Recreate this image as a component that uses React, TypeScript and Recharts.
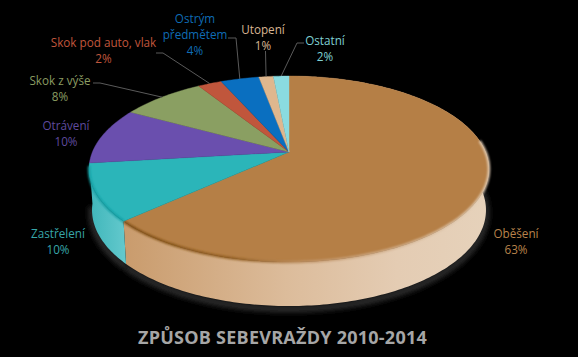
import { Pie, PieChart } from "recharts";

const categories = ["Oběšení", "Zastřelení", "Otrávení", "Skok z výše", "Skok pod auto, vlak", "Ostrým předmětem", "Utopení", "Ostatní"];
const shares = [63.2, 9.9, 9.9, 8.1, 2.3, 3.7, 1.4, 1.5];
const percentLabels = ["63%", "10%", "10%", "8%", "2%", "4%", "1%", "2%"];
const topColors = ["#b57f46", "#2bb5b9", "#6a4fae", "#8a9f62", "#c0563c", "#0a6fc0", "#dfb78e", "#8adbe0"];
const textColors = ["#b8834b", "#37a6a9", "#5f4a9d", "#8a9c62", "#c0563c", "#0f6cb5", "#d8b592", "#7fd0d3"];

const chartData = categories.map((name, i) => ({ name, value: shares[i], fill: topColors[i], index: i }));

const FONT = "'Open Sans', sans-serif";
const CX = 289;
const CY = 152;
const RADIUS = 196.6;
const SQUASH = 0.4573;
const PERSPECTIVE = 0.183;

// text layout per slice: centre x, first line y, lines, and the leader elbow
const labelLayout: Record<string, { x: number; y: number; lines: string[]; leader?: [number, number][] }> = {
  "Oběšení": { x: 516, y: 233, lines: ["Oběšení"] },
  "Zastřelení": { x: 58, y: 233, lines: ["Zastřelení"] },
  "Otrávení": { x: 66, y: 125, lines: ["Otrávení"] },
  "Skok z výše": { x: 60, y: 80, lines: ["Skok z výše"], leader: [[93, 83], [100, 83]] },
  "Skok pod auto, vlak": { x: 103.5, y: 42, lines: ["Skok pod auto, vlak"], leader: [[156, 53], [163, 53]] },
  "Ostrým předmětem": { x: 195, y: 18, lines: ["Ostrým", "předmětem"], leader: [[228, 38], [236, 38]] },
  "Utopení": { x: 263, y: 29, lines: ["Utopení"], leader: [[265.5, 51]] },
  "Ostatní": { x: 325, y: 40, lines: ["Ostatní"], leader: [[304, 43], [297, 43]] },
};

// pie plane seen in perspective: the centre sits above the middle of the ellipse
function project(cx: number, cy: number, r: number, deg: number): [number, number] {
  const a = (deg * Math.PI) / 180;
  const u = Math.cos(a);
  const v = -Math.sin(a);
  const w = 1 / (1 - PERSPECTIVE * v);
  return [cx + r * u * w, cy + r * SQUASH * v * w];
}

function lowerRim(cx: number, cy: number, p: [number, number]): [number, number] {
  return [cx + (p[0] - cx) * 0.985, cy + 58 + (p[1] - cy - 17) * 1.032];
}

function arcPoints(props: any) {
  const { cx, cy, outerRadius, startAngle, endAngle } = props;
  const steps = Math.max(2, Math.ceil(Math.abs(endAngle - startAngle)));
  const pts: [number, number][] = [];
  for (let i = 0; i <= steps; i++) {
    pts.push(project(cx, cy, outerRadius, startAngle + ((endAngle - startAngle) * i) / steps));
  }
  return pts;
}

const toPath = (pts: [number, number][]) => pts.map((p, i) => `${i ? "L" : "M"}${p[0].toFixed(2)} ${p[1].toFixed(2)}`).join(" ");

function TopSlice(props: any) {
  const pts = arcPoints(props);
  const rim = props.index === 0 ? "url(#rimBrown)" : props.index === 1 ? "#149ca1" : null;
  // the bevel runs along the near edge and a little way up the right side
  const rimPts = pts.filter((p) => p[1] > props.cy + 14 || (p[0] > props.cx && p[1] > props.cy - 12));
  return (
    <g>
      <path d={`M${props.cx} ${props.cy} ${toPath(pts).replace("M", "L")} Z`} fill={props.fill} stroke={props.fill} strokeWidth={0.4} />
      {rim && <path d={toPath(rimPts)} fill="none" stroke={rim} strokeWidth={2.4} filter="url(#soft)" />}
    </g>
  );
}

function WallSlice(props: any) {
  if (props.index > 1) return <g />;
  const pts = arcPoints(props);
  const low = pts.map((p) => lowerRim(props.cx, props.cy, p)).reverse();
  return <path d={`${toPath(pts)} ${toPath(low).replace("M", "L")} Z`} fill={props.index === 0 ? "url(#wallBrown)" : "url(#wallTeal)"} />;
}

function GlowSlice(props: any) {
  if (props.index > 1) return <g />;
  const low = arcPoints(props)
    .map((p) => lowerRim(props.cx, props.cy, p))
    .map((p): [number, number] => [p[0], p[1] + 3]);
  return <path d={toPath(low)} fill="none" stroke="#2b2b2b" strokeWidth={7} filter="url(#glow)" />;
}

function renderLabel(props: any) {
  const { cx, cy, outerRadius, midAngle, index, name } = props;
  const spot = labelLayout[name];
  const color = textColors[index];
  const edge = project(cx, cy, outerRadius, midAngle);
  const lines = [...spot.lines, percentLabels[index]];
  return (
    <g key={name}>
      {spot.leader && <path d={toPath([...spot.leader, edge])} fill="none" stroke="#5a5a5a" strokeWidth={1} />}
      {lines.map((line, i) => (
        <text key={line} x={spot.x} y={spot.y + i * 16} textAnchor="middle" dominantBaseline="central" fill={color} fontFamily={FONT} fontSize={11.7}>
          {line}
        </text>
      ))}
    </g>
  );
}

export default function App() {
  return (
    <div style={{ position: "absolute", left: 0, top: 0, width: 578, height: 357, background: "#000" }}>
      <PieChart width={578} height={357} margin={{ top: 0, right: 0, bottom: 0, left: 0 }}>
        <defs>
          <linearGradient id="wallBrown" gradientUnits="userSpaceOnUse" x1={122} y1={0} x2={489} y2={0}>
            <stop offset="0" stopColor="#c99b6c" />
            <stop offset="0.45" stopColor="#dcbc9b" />
            <stop offset="0.75" stopColor="#e4ccb3" />
            <stop offset="1" stopColor="#e6d2bb" />
          </linearGradient>
          <linearGradient id="wallTeal" gradientUnits="userSpaceOnUse" x1={89} y1={0} x2={124} y2={0}>
            <stop offset="0" stopColor="#3fb6ba" />
            <stop offset="1" stopColor="#62c8cc" />
          </linearGradient>
          <linearGradient id="rimBrown" gradientUnits="userSpaceOnUse" x1={122} y1={0} x2={489} y2={0}>
            <stop offset="0" stopColor="#7a4a12" />
            <stop offset="0.3" stopColor="#8f5c20" />
            <stop offset="0.5" stopColor="#c09468" />
            <stop offset="1" stopColor="#e3cfb8" />
          </linearGradient>
          <filter id="soft" filterUnits="userSpaceOnUse" x={0} y={0} width={578} height={357}>
            <feGaussianBlur stdDeviation="1.1" />
          </filter>
          <filter id="glow" filterUnits="userSpaceOnUse" x={0} y={0} width={578} height={357}>
            <feGaussianBlur stdDeviation="2.5" />
          </filter>
        </defs>
        <Pie data={chartData} dataKey="value" nameKey="name" cx={CX} cy={CY} outerRadius={RADIUS} startAngle={90} endAngle={-270} stroke="none" shape={GlowSlice} isAnimationActive={false} />
        <Pie data={chartData} dataKey="value" nameKey="name" cx={CX} cy={CY} outerRadius={RADIUS} startAngle={90} endAngle={-270} stroke="none" shape={WallSlice} isAnimationActive={false} />
        <Pie data={chartData} dataKey="value" nameKey="name" cx={CX} cy={CY} outerRadius={RADIUS} startAngle={90} endAngle={-270} stroke="none" shape={TopSlice} label={renderLabel} labelLine={false} isAnimationActive={false} />
        <text x={282.5} y={337} textAnchor="middle" dominantBaseline="central" fill="#a6a6a6" fontFamily={FONT} fontSize={18} fontWeight={700} letterSpacing={0.25}>
          ZPŮSOB SEBEVRAŽDY 2010-2014
        </text>
      </PieChart>
    </div>
  );
}
